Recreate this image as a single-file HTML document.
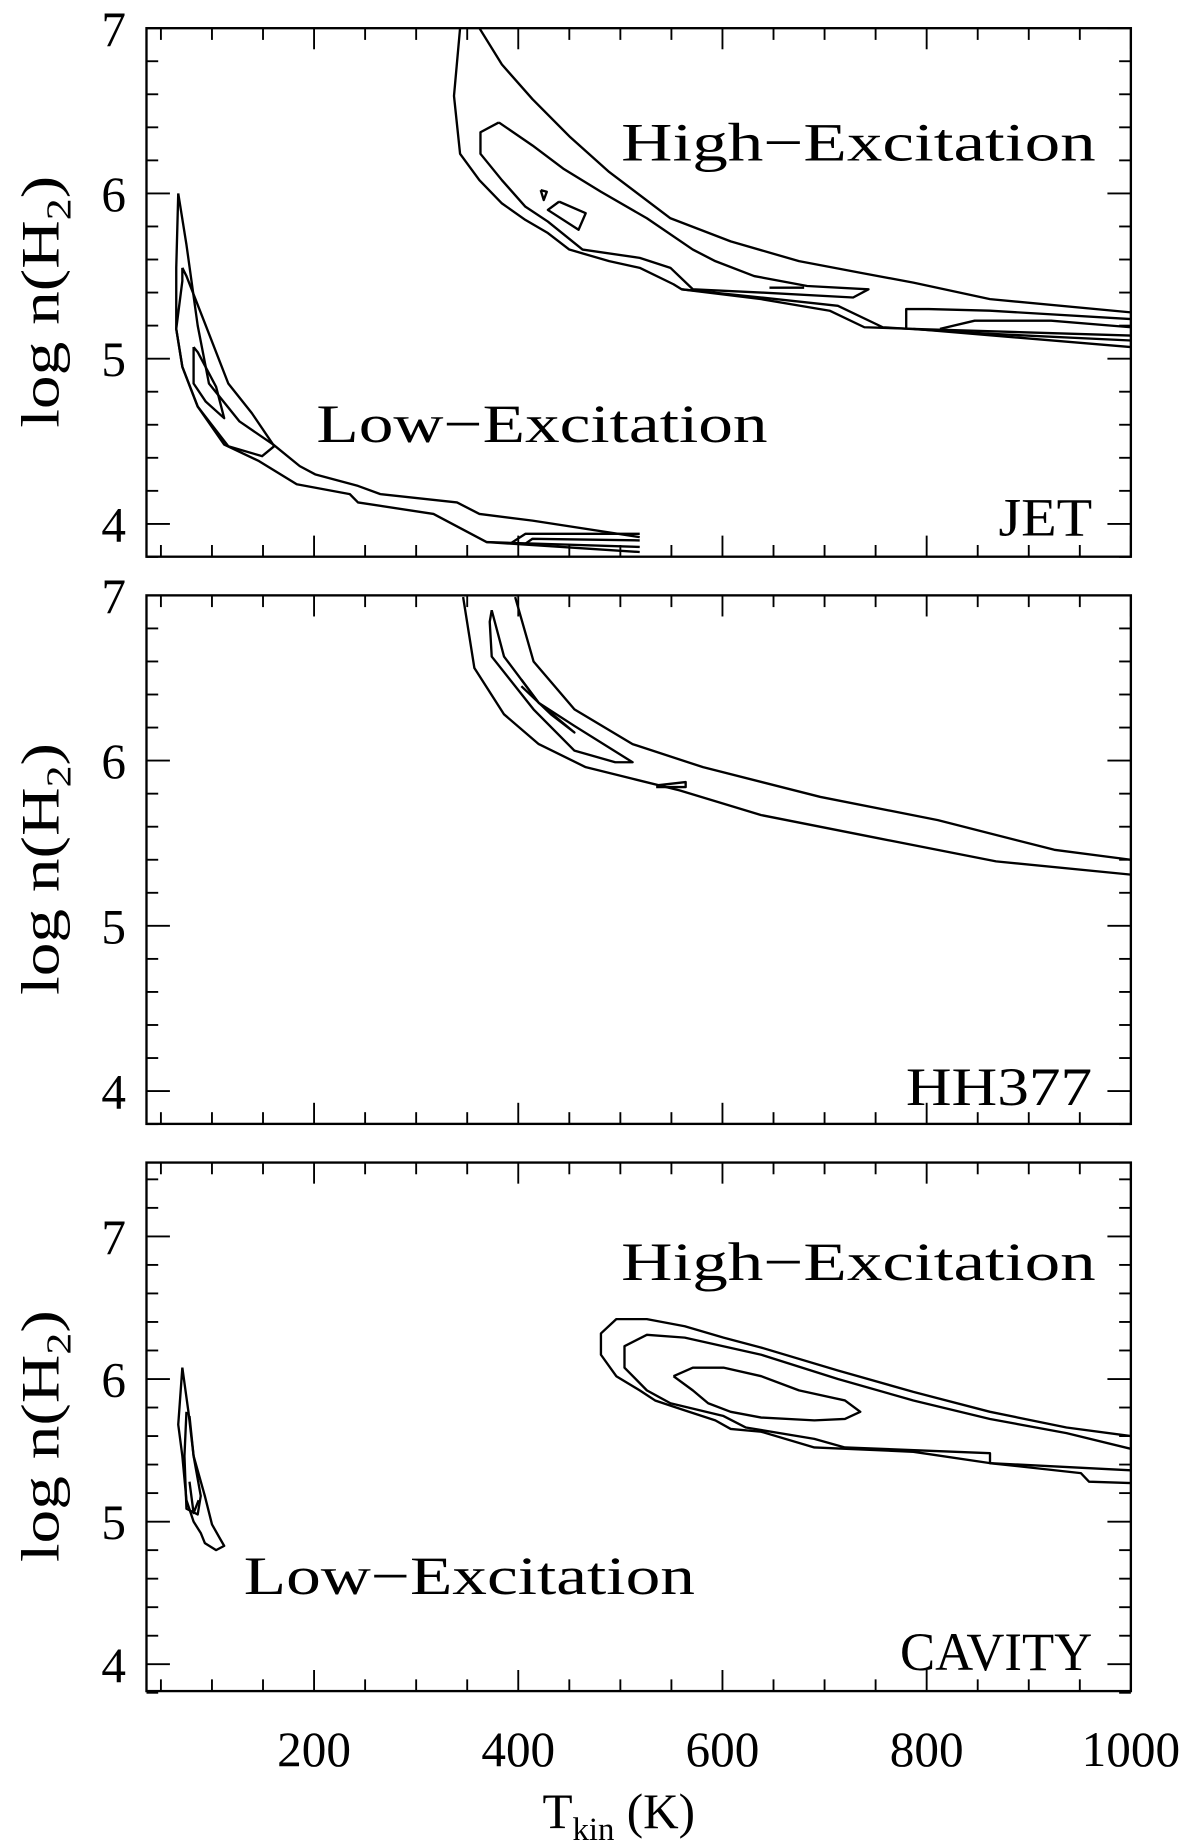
<!DOCTYPE html>
<html><head><meta charset="utf-8"><title>Contours</title>
<style>html,body{margin:0;padding:0;background:#fff}svg{display:block}</style></head>
<body>
<svg id="chart" width="1200" height="1847" viewBox="0 0 1024 1576" xmlns="http://www.w3.org/2000/svg" font-family="'Liberation Serif', serif"></svg>
<script>
const xTicks = [200, 400, 600, 800, 1000];
const xTickLabels = ["200", "400", "600", "800", "1000"];
const yTicks = [4, 5, 6, 7];
const yTickLabels = ["4", "5", "6", "7"];
const panelNames = ["JET", "HH377", "CAVITY"];

const jetHigh = [
 [[343,7.0],[337,6.59],[343,6.24],[362,6.08],[384,5.94],[407,5.84],[429,5.76],[450,5.66],[489,5.59],[519,5.55],[552,5.45],[560,5.42],[638,5.36],[705,5.29],[739,5.19],[787,5.18],[1000,5.07]],
 [[362,7.0],[384,6.78],[414,6.57],[451,6.34],[489,6.13],[549,5.85],[608,5.71],[675,5.59],[735,5.52],[787,5.46],[862,5.36],[1000,5.28]],
 [[381,6.43],[414,6.29],[444,6.15],[481,6.01],[526,5.85],[571,5.66],[593,5.59],[631,5.50],[683,5.44],[743,5.42],[728,5.37],[638,5.40],[571,5.42],[549,5.55],[519,5.61],[463,5.66],[429,5.83],[407,5.92],[384,6.08],[363,6.24],[363,6.37],[381,6.43]],
 [[440,5.95],[466,5.88],[459,5.78],[429,5.90],[440,5.95]],
 [[422,6.02],[428,6.01],[425,5.96],[422,6.02]],
 [[560,5.42],[638,5.37],[713,5.32],[757,5.19],[862,5.15],[1000,5.11]],
 [[780,5.18],[780,5.30],[802,5.30],[862,5.29],[1000,5.24]],
 [[813,5.18],[847,5.23],[922,5.23],[1000,5.19]],
 [[787,5.18],[1000,5.14]],
 [[646,5.43],[680,5.43]]
];
const jetLow = [
 [[67,6.00],[65,5.55],[65,5.18],[71,4.95],[86,4.71],[112,4.48],[146,4.38],[183,4.24],[235,4.18],[243,4.13],[317,4.06],[369,3.89],[519,3.83]],
 [[67,6.00],[75,5.69],[86,5.20],[97,4.85],[127,4.62],[160,4.48],[186,4.35],[201,4.30],[243,4.23],[265,4.18],[340,4.13],[362,4.06],[414,4.02],[519,3.92]],
 [[71,5.55],[75,5.50],[94,5.20],[116,4.85],[139,4.67],[161,4.47],[149,4.41],[116,4.47],[86,4.71],[71,4.95],[65,5.18],[71,5.47],[71,5.55]],
 [[82,5.07],[82,4.85],[94,4.74],[112,4.64],[104,4.83],[86,5.04],[82,5.07]],
 [[392,3.88],[407,3.94],[519,3.94]],
 [[407,3.88],[414,3.91],[519,3.90]],
 [[369,3.89],[519,3.86]]
];
const hhHigh = [
 [[346,6.99],[357,6.56],[386,6.28],[420,6.10],[466,5.96],[512,5.89],[558,5.82],[638,5.67],[753,5.53],[868,5.39],[1000,5.31]],
 [[397,6.99],[415,6.60],[455,6.31],[512,6.10],[581,5.96],[696,5.78],[811,5.64],[925,5.46],[1000,5.40]],
 [[374,6.91],[386,6.63],[420,6.35],[455,6.21],[512,5.99],[495,5.99],[455,6.06],[415,6.31],[374,6.63],[372,6.84],[374,6.91]],
 [[403,6.49],[420,6.35],[455,6.17],[432,6.28],[403,6.45]],
 [[535,5.85],[564,5.87],[564,5.84],[535,5.84]]
];
const cavHigh = [
 [[1000,5.60],[937,5.66],[862,5.77],[787,5.91],[713,6.06],[638,6.22],[601,6.29],[563,6.37],[526,6.42],[496,6.42],[481,6.32],[481,6.17],[496,6.02],[519,5.92],[534,5.85],[563,5.78],[593,5.71],[608,5.65],[638,5.63],[690,5.52],[787,5.49],[862,5.41],[951,5.34],[959,5.28],[1000,5.27]],
 [[1000,5.51],[937,5.62],[862,5.72],[787,5.85],[713,6.00],[638,6.17],[563,6.29],[526,6.31],[504,6.23],[504,6.08],[526,5.92],[549,5.83],[601,5.74],[623,5.66],[690,5.58],[720,5.52],[862,5.48],[862,5.41],[1000,5.36]],
 [[552,6.02],[571,6.08],[601,6.08],[638,6.02],[675,5.92],[720,5.85],[735,5.77],[720,5.72],[690,5.71],[638,5.73],[608,5.77],[586,5.83],[571,5.92],[552,6.02]]
];
const cavLow = [
 [[71,6.08],[67,5.68],[71,5.46],[75,5.15],[82,5.00],[89,4.92],[93,4.85],[104,4.80],[112,4.83],[108,4.88],[100,4.98],[93,5.18],[82,5.46],[77,5.77],[71,6.08]],
 [[75,5.77],[73,5.46],[75,5.09],[86,5.05],[89,5.18],[82,5.46],[78,5.74]],
 [[78,5.28],[82,5.06],[87,5.15]]
];

const panels = [
 {top:24, bottom:475, ymin:3.8, ymax:7, pxPerUnit:141, tick7:24, contours:[jetHigh, jetLow]},
 {top:508, bottom:959, ymin:3.8, ymax:7, pxPerUnit:141, tick7:508, contours:[hhHigh]},
 {top:992, bottom:1443, ymin:3.8, ymax:7.5, pxPerUnit:121.7, tick7:1055, contours:[cavHigh, cavLow]}
];
const L = 125, R = 965;
const xScale = T => 268 + (T - 200) * 0.87125;
const svg = document.getElementById('chart');
const NS = 'http://www.w3.org/2000/svg';
function mk(tag, attrs, parent){const e=document.createElementNS(NS,tag);for(const k in attrs)e.setAttribute(k,attrs[k]);(parent||svg).appendChild(e);return e;}

panels.forEach((p, pi) => {
  const yScale = v => p.tick7 + (7 - v) * p.pxPerUnit;
  const g = mk('g', {});
  
  
  const clipId = 'clip' + pi;
  const cp = mk('clipPath', {id: clipId}, g);
  mk('rect', {x:L, y:p.top, width:R-L, height:p.bottom-p.top}, cp);
  const tg = mk('g', {stroke:'#000', 'stroke-width':1.6}, g);
  
  
  for (let T = 50; T <= 1000; T += 50) {
    const x = xScale(T); const len = (T % 200 === 0) ? 18 : 10;
    mk('line', {x1:x, x2:x, y1:p.bottom, y2:p.bottom-len}, tg);
    mk('line', {x1:x, x2:x, y1:p.top, y2:p.top+len}, tg);
  }
  for (let k = Math.ceil(p.ymin*5); k <= Math.floor(p.ymax*5); k++) {
    const v = k/5; const y = yScale(v); const major = (k % 5 === 0); const len = major ? 20 : 10;
    mk('line', {x1:L, x2:L+len, y1:y, y2:y}, tg);
    mk('line', {x1:R, x2:R-len, y1:y, y2:y}, tg);
  }
  yTicks.forEach((v, i) => {
    const t = mk('text', {x:97, y:yScale(v)+15, 'font-size':42, 'text-anchor':'middle'}, g);
    
    
    t.textContent = yTickLabels[i];
  });
  const yl = mk('text', {x:0, y:0, 'font-size':46, 'text-anchor':'middle', textLength:215, lengthAdjust:'spacingAndGlyphs', transform:`translate(50 ${(p.top+p.bottom)/2+8}) rotate(-90)`}, g);
  
  
  yl.innerHTML = 'log n(H<tspan font-size="30" dy="10">2</tspan><tspan dy="-10">)</tspan>';
  const cg = mk('g', {'clip-path':`url(#${clipId})`, fill:'none', stroke:'#000', 'stroke-width':2, 'stroke-linejoin':'round'}, g);
  
  
  p.contours.forEach(set => set.forEach(line => {
    const pl = mk('polyline', {points: line.map(d => xScale(d[0]).toFixed(1)+','+yScale(d[1]).toFixed(1)).join(' ')}, cg);
    
    
  }));
  const fr = mk('rect', {x:L, y:p.top, width:R-L, height:p.bottom-p.top, fill:'none', stroke:'#000', 'stroke-width':2}, g);
  
  
});

function label(txt, x, y, len, name, size){
  const t = mk('text', {x:x, y:y, 'font-size':size||46, textLength:len, lengthAdjust:'spacingAndGlyphs'});
  
  
  t.textContent = txt;
}
label('High\u2212Excitation', 530, 137, 405, 'high-excitation-label');
label('Low\u2212Excitation', 270, 377, 385, 'low-excitation-label');
label('JET', 852, 457, 80, 'panel-label-jet');
label('HH377', 773, 943, 159, 'panel-label-hh377');
label('High\u2212Excitation', 530, 1092, 405, 'high-excitation-label-cavity');
label('Low\u2212Excitation', 208, 1360, 385, 'low-excitation-label-cavity');
label('CAVITY', 768, 1425, 164, 'panel-label-cavity');

xTicks.forEach((T, i) => {
  const t = mk('text', {x:xScale(T), y:1507, 'font-size':42, 'text-anchor':'middle'});
  
  
  t.textContent = xTickLabels[i];
});
const xt = mk('text', {x:528, y:1560, 'font-size':42, 'text-anchor':'middle'});


xt.innerHTML = 'T<tspan font-size="28" dy="10">kin</tspan><tspan dy="-10"> (K)</tspan>';
</script>
</body></html>
